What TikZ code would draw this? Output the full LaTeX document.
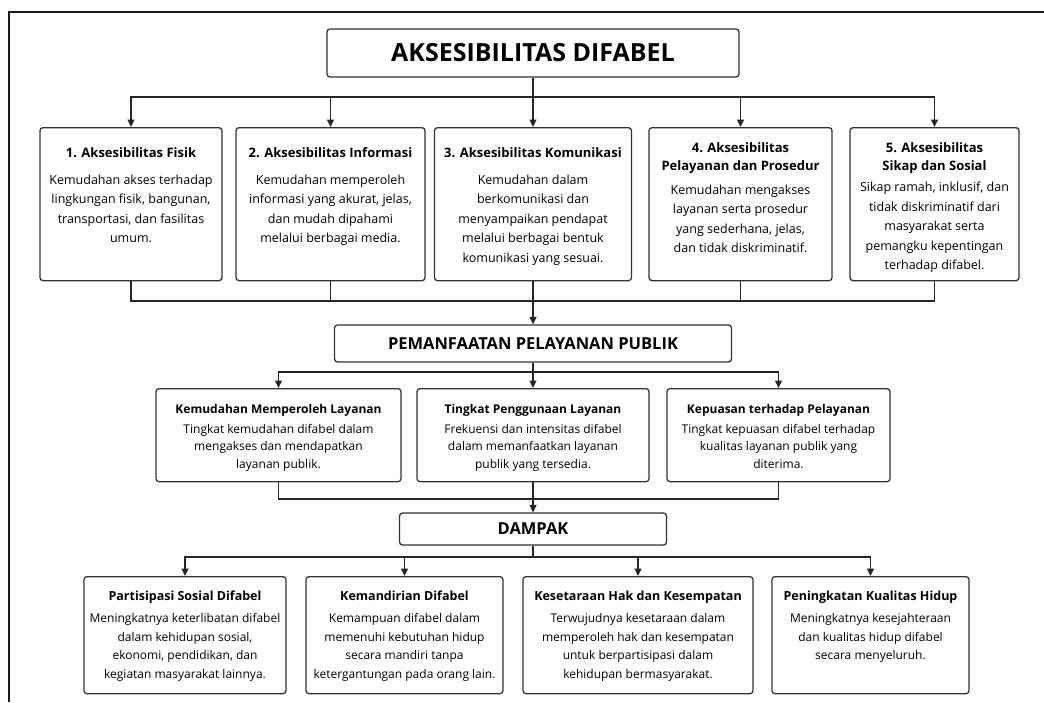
\documentclass[tikz,border=0pt]{standalone}
\usepackage{fontspec}
\setmainfont{Open Sans}
\usetikzlibrary{arrows.meta}

\tikzset{
  garis/.style={line width=1.3pt, draw=black!85},
  panah/.style={garis, -{Triangle[width=7pt,length=7.5pt]}},
  kotak/.style={draw=black!80, line width=1.3pt, rounded corners=3pt, fill=white, inner sep=0pt},
  kepala/.style={kotak, font=\bfseries\fontsize{16.5}{19}\selectfont},
}
% isi kotak: lebar, jarak atas, jarak tengah, judul, keterangan
\newcommand{\kotaksatu}[5]{\parbox[c][153pt][t]{#1pt}{\centering\vspace*{#2pt}%
  {\bfseries\fontsize{13}{18}\selectfont #4\par}\vspace{#3pt}%
  {\fontsize{12.5}{19.5}\selectfont #5\par}}}
\newcommand{\kotakdua}[3]{\parbox[c][93pt][t]{#1pt}{\centering\vspace*{15.5pt}%
  {\bfseries\fontsize{12}{17}\selectfont #2\par}\vspace{2.5pt}%
  {\fontsize{12}{17.5}\selectfont #3\par}}}
\newcommand{\kotaktiga}[3]{\parbox[c][117pt][t]{#1pt}{\centering\vspace*{14.5pt}%
  {\bfseries\fontsize{12.5}{17}\selectfont #2\par}\vspace{3.5pt}%
  {\fontsize{12}{18.5}\selectfont #3\par}}}

\begin{document}
\begin{tikzpicture}[x=1pt, y=-1pt]
  \useasboundingbox (0,0) rectangle (1044,702);
  % bingkai
  \draw[line width=2pt, black!90] (9,702) -- (9,12) -- (1044,12);

  % judul
  \node[kotak, minimum width=412, minimum height=48, font=\bfseries\fontsize{25}{28}\selectfont] (akses) at (533,53) {AKSESIBILITAS DIFABEL};

  % aksesibilitas
  \node[kotak, anchor=north] (b1) at (131,127) {\kotaksatu{182}{20}{7}{1. Aksesibilitas Fisik}{Kemudahan akses terhadap\\ lingkungan fisik, bangunan,\\ transportasi, dan fasilitas\\ umum.}};
  \node[kotak, anchor=north] (b2) at (330.5,127) {\kotaksatu{189}{20}{7}{2. Aksesibilitas Informasi}{Kemudahan memperoleh\\ informasi yang akurat, jelas,\\ dan mudah dipahami\\ melalui berbagai media.}};
  \node[kotak, anchor=north] (b3) at (533,127) {\kotaksatu{197}{20}{7}{3. Aksesibilitas Komunikasi}{Kemudahan dalam\\ berkomunikasi dan\\ menyampaikan pendapat\\ melalui berbagai bentuk\\ komunikasi yang sesuai.}};
  \node[kotak, anchor=north] (b4) at (740.5,127) {\kotaksatu{183}{15}{4}{4. Aksesibilitas\\ Pelayanan dan Prosedur}{Kemudahan mengakses\\ layanan serta prosedur\\ yang sederhana, jelas,\\ dan tidak diskriminatif.}};
  \node[kotak, anchor=north] (b5) at (934.5,127) {\kotaksatu{169}{15}{1.5}{5. Aksesibilitas\\ Sikap dan Sosial}{Sikap ramah, inklusif, dan\\ tidak diskriminatif dari\\ masyarakat serta\\ pemangku kepentingan\\ terhadap difabel.}};

  \coordinate (busatas) at (533,97);
  \draw[garis] (akses) -- (busatas);
  \foreach \b in {b1,b2,b3,b4,b5}
    \draw[panah] (busatas) -| (\b.north);

  % pemanfaatan pelayanan publik
  \node[kepala, minimum width=397, minimum height=37] (pelayanan) at (533,343.5) {PEMANFAATAN PELAYANAN PUBLIK};
  \coordinate (busbawah) at (533,301);
  \foreach \b in {b1,b2,b3,b4,b5}
    \draw[garis] (\b.south) |- (busbawah);
  \draw[panah] (busbawah) -- (pelayanan.north);

  \node[kotak, anchor=north] (l1) at (278.5,388) {\kotakdua{245}{Kemudahan Memperoleh Layanan}{Tingkat kemudahan difabel dalam\\ mengakses dan mendapatkan\\ layanan publik.}};
  \node[kotak, anchor=north] (l2) at (533,388) {\kotakdua{232}{Tingkat Penggunaan Layanan}{Frekuensi dan intensitas difabel\\ dalam memanfaatkan layanan\\ publik yang tersedia.}};
  \node[kotak, anchor=north] (l3) at (778.5,388) {\kotakdua{223}{Kepuasan terhadap Pelayanan}{Tingkat kepuasan difabel terhadap\\ kualitas layanan publik yang\\ diterima.}};

  \coordinate (busdua) at (533,372);
  \draw[garis] (pelayanan) -- (busdua);
  \foreach \l in {l1,l2,l3}
    \draw[panah] (busdua) -| (\l.north);

  % dampak
  \node[kepala, minimum width=267, minimum height=32] (dampak) at (533,529) {DAMPAK};
  \coordinate (bustiga) at (533,499);
  \foreach \l in {l1,l2,l3}
    \draw[garis] (\l.south) |- (bustiga);
  \draw[panah] (bustiga) -- (dampak.north);

  \node[kotak, anchor=north] (d1) at (185,576) {\kotaktiga{202}{Partisipasi Sosial Difabel}{Meningkatnya keterlibatan difabel\\ dalam kehidupan sosial,\\ ekonomi, pendidikan, dan\\ kegiatan masyarakat lainnya.}};
  \node[kotak, anchor=north] (d2) at (404.5,576) {\kotaktiga{197}{Kemandirian Difabel}{Kemampuan difabel dalam\\ memenuhi kebutuhan hidup\\ secara mandiri tanpa\\ ketergantungan pada orang lain.}};
  \node[kotak, anchor=north] (d3) at (638,576) {\kotaktiga{230}{Kesetaraan Hak dan Kesempatan}{Terwujudnya kesetaraan dalam\\ memperoleh hak dan kesempatan\\ untuk berpartisipasi dalam\\ kehidupan bermasyarakat.}};
  \node[kotak, anchor=north] (d4) at (870.5,576) {\kotaktiga{197}{Peningkatan Kualitas Hidup}{Meningkatnya kesejahteraan\\ dan kualitas hidup difabel\\ secara menyeluruh.}};

  \coordinate (busempat) at (533,557);
  \draw[garis] (dampak) -- (busempat);
  \foreach \d in {d1,d2,d3,d4}
    \draw[panah] (busempat) -| (\d.north);
\end{tikzpicture}
\end{document}
